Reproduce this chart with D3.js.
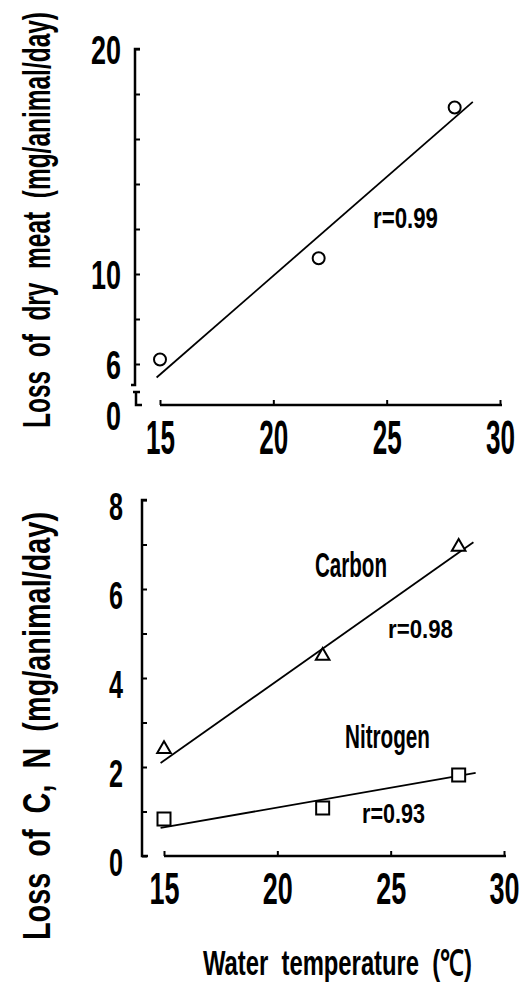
<!DOCTYPE html>
<html>
<head>
<meta charset="utf-8">
<script src="https://cdn.jsdelivr.net/npm/d3@7"></script>
<style>
  body { margin: 0; background: #fff; }
  svg { display: block; }
  text { font-family: "Liberation Sans", Arial, sans-serif; font-weight: bold; fill: #000; white-space: pre; }
</style>
</head>
<body>
<div id="chart"></div>
<script>
// water temperatures of the three runs
const temps = [15, 22, 28];

// top panel: loss of dry meat
const dryMeat = [6.2, 10.7, 17.4];
const dryFitX = [14.85, 28.8];
const dryFitY = [5.4, 17.65];
const dryR = "r=0.99";

// bottom panel: carbon and nitrogen
const carbon = [2.4, 4.5, 6.95];
const carbonFitX = [14.85, 28.65];
const carbonFitY = [2.09, 7.05];
const carbonR = "r=0.98";
const nitrogen = [0.83, 1.08, 1.82];
const nitrogenFitX = [14.85, 28.75];
const nitrogenFitY = [0.63, 1.87];
const nitrogenR = "r=0.93";

// axis ticks
const xTicks = [15, 20, 25, 30];
const topYTicks = [6, 8, 10, 12, 14, 16, 18, 20];
const topYLabels = [6, 10, 20];
const botYTicks = [0, 1, 2, 3, 4, 5, 6, 7, 8];
const botYLabels = [0, 2, 4, 6, 8];

const width = 522, height = 983;
const svg = d3.select("#chart").append("svg")
  .attr("width", width).attr("height", height);

// squeeze text to look like the narrow gothic of the original
function narrow(sel, perChar) {
  sel.each(function() {
    const t = d3.select(this);
    const s = t.text();
    if (s.length) t.attr("textLength", s.length * perChar).attr("lengthAdjust", "spacingAndGlyphs");
  });
}

function label(x, y, str, size, len, anchor) {
  return svg.append("text")
    .attr("x", x).attr("y", y)
    .attr("font-size", size)
    .attr("text-anchor", anchor || "start")
    .attr("textLength", len).attr("lengthAdjust", "spacingAndGlyphs")
    .text(str);
}

// ---------- top panel ----------
const x1 = d3.scaleLinear().domain([15, 30]).range([160, 500]);
const y1 = d3.scaleLinear().domain([6, 20]).range([364, 49]);
const top0 = 405; // level of the broken "0"

const gy1 = svg.append("g").attr("transform", "translate(135,0)")
  .call(d3.axisLeft(y1).tickValues(topYTicks).tickSizeInner(-5).tickSizeOuter(0).tickPadding(14)
    .tickFormat(d => topYLabels.includes(d) ? d : ""));
gy1.select(".domain").remove();
gy1.selectAll(".tick line").attr("stroke-width", 2);
gy1.selectAll(".tick text").attr("font-size", 40).attr("dy", "0.36em").call(narrow, 15);

svg.append("path").attr("fill", "none").attr("stroke", "#000").attr("stroke-width", 2.5)
  .attr("d", `M140,${y1(20)}H135V385H131`);
svg.append("path").attr("fill", "none").attr("stroke", "#000").attr("stroke-width", 2.5)
  .attr("d", `M133,392H140M136,392V${top0}H142`);
svg.append("text").attr("x", 121).attr("y", 416).attr("dy", "0.36em")
  .attr("font-size", 40).attr("text-anchor", "end").text("0").call(narrow, 15);

const gx1 = svg.append("g").attr("transform", `translate(0,${top0})`)
  .call(d3.axisBottom(x1).tickValues(xTicks).tickSizeInner(-5).tickSizeOuter(0).tickPadding(14));
gx1.select(".domain").remove();
gx1.selectAll(".tick line").attr("stroke-width", 2);
gx1.selectAll(".tick text").attr("font-size", 48).attr("dy", "0.72em").call(narrow, 14.5);
svg.append("line").attr("x1", x1(15)).attr("x2", x1(30) + 2).attr("y1", top0).attr("y2", top0)
  .attr("stroke", "#000").attr("stroke-width", 2.5);

svg.append("line")
  .attr("x1", x1(dryFitX[0])).attr("y1", y1(dryFitY[0]))
  .attr("x2", x1(dryFitX[1])).attr("y2", y1(dryFitY[1]))
  .attr("stroke", "#000").attr("stroke-width", 1.8);
svg.selectAll(".dry").data(temps).enter().append("circle")
  .attr("cx", d => x1(d)).attr("cy", (d, i) => y1(dryMeat[i])).attr("r", 6)
  .attr("fill", "#fff").attr("stroke", "#000").attr("stroke-width", 2);
label(373, 228, dryR, 29, 65);

label(0, 0, "Loss  of  dry  meat  (mg/animal/day)", 39, 416)
  .attr("transform", "translate(50,428) rotate(-90)");

// ---------- bottom panel ----------
const x2 = d3.scaleLinear().domain([15, 30]).range([164, 504]);
const y2 = d3.scaleLinear().domain([0, 8]).range([856, 500]);

const gy2 = svg.append("g").attr("transform", "translate(142,0)")
  .call(d3.axisLeft(y2).tickValues(botYTicks).tickSizeInner(-5).tickSizeOuter(0).tickPadding(19)
    .tickFormat(d => botYLabels.includes(d) ? d : ""));
gy2.select(".domain").remove();
gy2.selectAll(".tick line").attr("stroke-width", 2);
gy2.selectAll(".tick text").attr("font-size", 38).attr("dy", "0.5em").call(narrow, 14);
svg.append("path").attr("fill", "none").attr("stroke", "#000").attr("stroke-width", 2.5)
  .attr("d", `M147,${y2(8)}H142V${y2(0)}H148`);

const gx2 = svg.append("g").attr("transform", `translate(0,${y2(0)})`)
  .call(d3.axisBottom(x2).tickValues(xTicks).tickSizeInner(-5).tickSizeOuter(0).tickPadding(16)
    .tickFormat(d => d));
gx2.select(".domain").remove();
gx2.selectAll(".tick line").attr("stroke-width", 2);
gx2.selectAll(".tick text").attr("font-size", 45).attr("dy", "0.72em").call(narrow, 15);
svg.append("line").attr("x1", x2(15)).attr("x2", x2(30) + 2).attr("y1", y2(0)).attr("y2", y2(0))
  .attr("stroke", "#000").attr("stroke-width", 2.5);

svg.append("line")
  .attr("x1", x2(carbonFitX[0])).attr("y1", y2(carbonFitY[0]))
  .attr("x2", x2(carbonFitX[1])).attr("y2", y2(carbonFitY[1]))
  .attr("stroke", "#000").attr("stroke-width", 1.8);
svg.append("line")
  .attr("x1", x2(nitrogenFitX[0])).attr("y1", y2(nitrogenFitY[0]))
  .attr("x2", x2(nitrogenFitX[1])).attr("y2", y2(nitrogenFitY[1]))
  .attr("stroke", "#000").attr("stroke-width", 1.8);

svg.selectAll(".carbon").data(temps).enter().append("path")
  .attr("d", d3.symbol(d3.symbolTriangle, 80))
  .attr("transform", (d, i) => `translate(${x2(d)},${y2(carbon[i])})`)
  .attr("fill", "#fff").attr("stroke", "#000").attr("stroke-width", 2);
svg.selectAll(".nitrogen").data(temps).enter().append("path")
  .attr("d", d3.symbol(d3.symbolSquare, 169))
  .attr("transform", (d, i) => `translate(${x2(d)},${y2(nitrogen[i])})`)
  .attr("fill", "#fff").attr("stroke", "#000").attr("stroke-width", 2);

label(315, 577, "Carbon", 35, 72);
label(388, 638, carbonR, 26, 65);
label(345, 748, "Nitrogen", 33, 85);
label(362, 823, nitrogenR, 28, 63);

label(0, 0, "Loss  of  C,  N  (mg/animal/day)", 39, 428)
  .attr("transform", "translate(50,940) rotate(-90)");

label(203, 975, "Water  temperature  (\u2103)", 35, 269);
</script>
</body>
</html>
